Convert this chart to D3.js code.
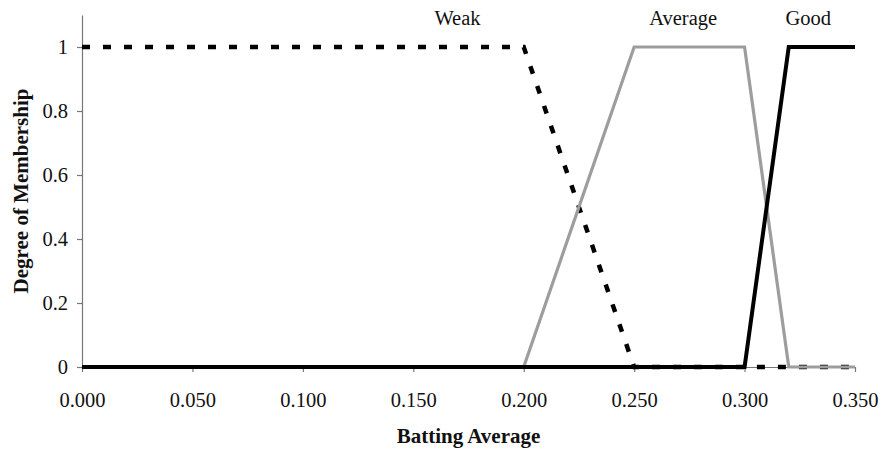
<!DOCTYPE html>
<html><head><meta charset="utf-8">
<script src="https://cdn.jsdelivr.net/npm/d3@7"></script>
<style>body{margin:0;background:#fff}svg{display:block}</style>
</head><body>
<svg id="c" width="883" height="449"></svg>
<script>
// Data
const weakX = [0.000, 0.200, 0.250, 0.350];
const weakY = [1, 1, 0, 0];
const averageX = [0.200, 0.250, 0.300, 0.320, 0.350];
const averageY = [0, 1, 1, 0, 0];
const goodX = [0.000, 0.300, 0.320, 0.350];
const goodY = [0, 0, 1, 1];
const xTicks = [0, 0.05, 0.1, 0.15, 0.2, 0.25, 0.3, 0.35];
const yTicks = [0, 0.2, 0.4, 0.6, 0.8, 1];
const seriesLabels = [
  {name: "Weak", x: 0.170},
  {name: "Average", x: 0.2722},
  {name: "Good", x: 0.3288}
];

const svg = d3.select("#c");
const L = 82, R = 855, T = 15, B = 367;
const x = d3.scaleLinear().domain([0, 0.35]).range([L, R]);
const y = d3.scaleLinear().domain([0, 1.1]).range([B, T]);
const font = "'Liberation Serif', 'Times New Roman', serif";

// Axes
const xAxis = svg.append("g").attr("transform", `translate(0,${B})`)
  .call(d3.axisBottom(x).tickValues(xTicks).tickFormat(d3.format(".3f")).tickSize(5).tickSizeOuter(0));
const yAxis = svg.append("g").attr("transform", `translate(${L},0)`)
  .call(d3.axisLeft(y).tickValues(yTicks).tickFormat(d => d === 0 || d === 1 ? d3.format("d")(d) : d3.format(".1f")(d)).tickSize(5).tickSizeOuter(0));
[xAxis, yAxis].forEach(g => {
  g.selectAll(".domain").attr("stroke", "#777").attr("stroke-width", 1.2);
  g.selectAll(".tick line").attr("stroke", "#777").attr("stroke-width", 1.2);
  g.selectAll("text").attr("font-family", font).attr("font-size", 20.5).attr("fill", "#111");
});
xAxis.selectAll("text").attr("y", 25).attr("dy", "0.71em");
yAxis.selectAll("text").attr("x", -14);

const line = d3.line().x(d => x(d[0])).y(d => y(d[1]));
const zip = (a, b) => a.map((v, i) => [v, b[i]]);

svg.append("path").datum(zip(weakX, weakY)).attr("d", line)
  .attr("fill", "none").attr("stroke", "#000").attr("stroke-width", 4.5).attr("stroke-dasharray", "8,13");
svg.append("path").datum(zip(averageX, averageY)).attr("d", line)
  .attr("fill", "none").attr("stroke", "#9d9d9d").attr("stroke-width", 3.2).attr("stroke-linejoin", "miter");
svg.append("path").datum(zip(goodX, goodY)).attr("d", line)
  .attr("fill", "none").attr("stroke", "#000").attr("stroke-width", 4).attr("stroke-linejoin", "miter");

// Series labels
svg.selectAll(".slab").data(seriesLabels).enter().append("text")
  .attr("x", d => x(d.x)).attr("y", y(1.07))
  .attr("text-anchor", "middle").attr("font-family", font).attr("font-size", 20.5).attr("fill", "#111")
  .text(d => d.name);

// Axis titles
svg.append("text").attr("x", (L + R) / 2).attr("y", 443).attr("text-anchor", "middle")
  .attr("font-family", font).attr("font-size", 21).attr("font-weight", "bold").attr("fill", "#111")
  .text("Batting Average");
svg.append("text").attr("transform", `translate(28,${(T + B) / 2}) rotate(-90)`).attr("text-anchor", "middle")
  .attr("font-family", font).attr("font-size", 21).attr("font-weight", "bold").attr("fill", "#111")
  .text("Degree of Membership");
</script>
</body></html>
